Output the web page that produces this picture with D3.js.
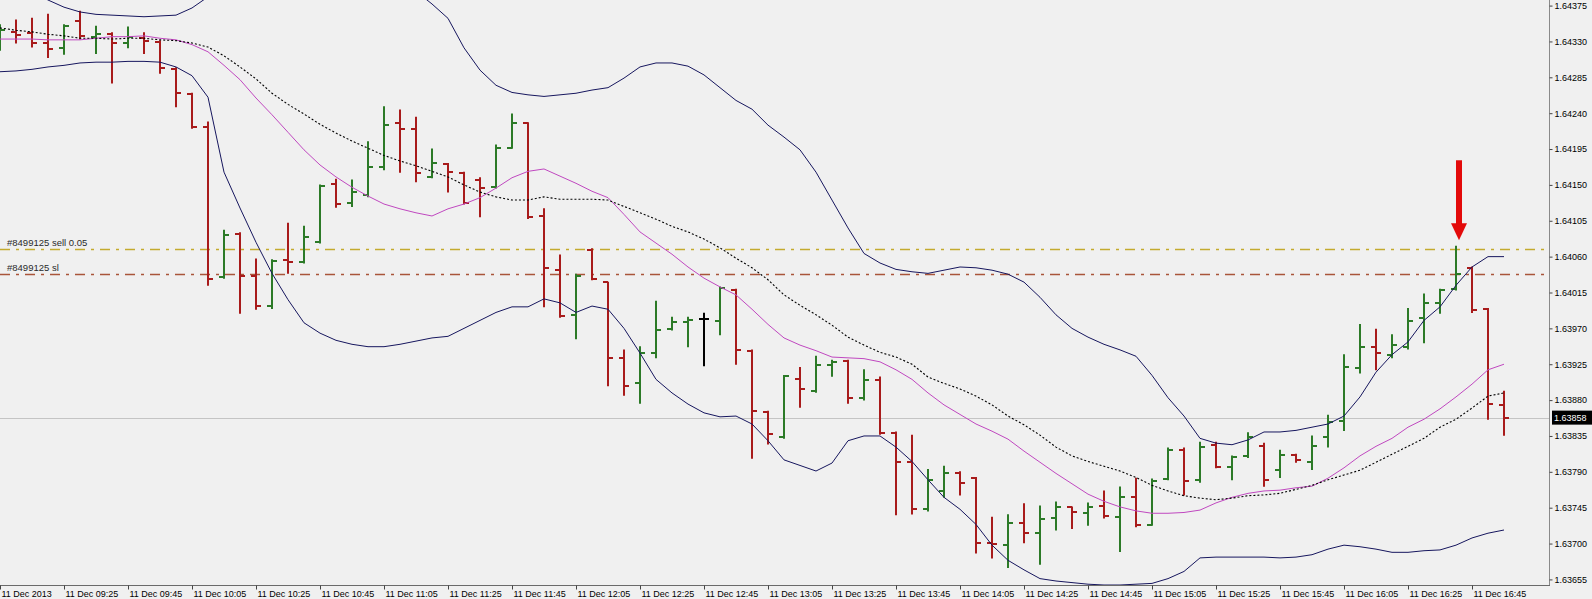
<!DOCTYPE html>
<html><head><meta charset="utf-8">
<script src="https://cdn.jsdelivr.net/npm/d3@7"></script>
<style>
html,body{margin:0;padding:0;background:#f0f0f0;overflow:hidden;}
svg{display:block;}
</style></head><body>
<svg id="c" width="1592" height="599"></svg>
<script>
// ---------- DATA ----------
const barTimes = ["09:05","09:10","09:15","09:20","09:25","09:30","09:35","09:40","09:45","09:50","09:55",
"10:00","10:05","10:10","10:15","10:20","10:25","10:30","10:35","10:40","10:45","10:50","10:55",
"11:00","11:05","11:10","11:15","11:20","11:25","11:30","11:35","11:40","11:45","11:50","11:55",
"12:00","12:05","12:10","12:15","12:20","12:25","12:30","12:35","12:40","12:45","12:50","12:55",
"13:00","13:05","13:10","13:15","13:20","13:25","13:30","13:35","13:40","13:45","13:50","13:55",
"14:00","14:05","14:10","14:15","14:20","14:25","14:30","14:35","14:40","14:45","14:50","14:55",
"15:00","15:05","15:10","15:15","15:20","15:25","15:30","15:35","15:40","15:45","15:50","15:55",
"16:00","16:05","16:10","16:15","16:20","16:25","16:30","16:35","16:40","16:45","16:50","16:55"];

const open = [1.64332,1.64342,1.64341,1.64328,1.64322,1.64356,1.64336,1.64339,1.64328,1.64334,
1.64329,1.64295,1.64264,1.64223,1.64034,1.64088,1.64036,1.63998,1.64056,1.64053,
1.64078,1.64151,1.64127,1.64137,1.64172,1.64228,1.64220,1.64160,1.64176,1.64165,
1.64156,1.64147,1.64196,1.64228,1.64111,1.64043,1.63987,1.64068,1.64028,1.63933,
1.63901,1.63939,1.63969,1.63978,1.63982,1.63979,1.64018,1.63942,1.63865,1.63834,
1.63906,1.63891,1.63924,1.63929,1.63883,1.63905,1.63839,1.63802,1.63743,1.63766,
1.63788,1.63782,1.63701,1.63698,1.63726,1.63713,1.63732,1.63746,1.63738,1.63747,
1.63733,1.63758,1.63723,1.63781,1.63817,1.63780,1.63824,1.63796,1.63810,1.63822,
1.63792,1.63811,1.63802,1.63834,1.63854,1.63920,1.63947,1.63936,1.63947,1.63983,
1.64002,1.64019,1.64046,1.63994,1.63874];

const high = [1.64351,1.64357,1.64359,1.64364,1.64351,1.64368,1.64349,1.64341,1.64348,1.64341,
1.64331,1.64297,1.64265,1.64229,1.64093,1.64090,1.64057,1.64056,1.64102,1.64098,
1.64150,1.64157,1.64156,1.64204,1.64248,1.64244,1.64235,1.64195,1.64177,1.64166,
1.64159,1.64200,1.64239,1.64228,1.64120,1.64062,1.64038,1.64070,1.64028,1.63943,
1.63947,1.64004,1.63984,1.63984,1.63989,1.64022,1.64019,1.63943,1.63866,1.63911,
1.63921,1.63935,1.63930,1.63930,1.63918,1.63909,1.63840,1.63836,1.63793,1.63797,
1.63790,1.63783,1.63733,1.63736,1.63750,1.63747,1.63752,1.63746,1.63751,1.63766,
1.63771,1.63782,1.63781,1.63820,1.63820,1.63827,1.63827,1.63810,1.63839,1.63826,
1.63817,1.63812,1.63835,1.63861,1.63937,1.63975,1.63969,1.63962,1.63995,1.64013,
1.64019,1.64073,1.64047,1.63995,1.63891];

const low = [1.64319,1.64328,1.64323,1.64310,1.64314,1.64333,1.64315,1.64278,1.64322,1.64315,
1.64290,1.64248,1.64221,1.64024,1.64033,1.63989,1.63994,1.63995,1.64039,1.64052,
1.64077,1.64122,1.64123,1.64135,1.64169,1.64166,1.64154,1.64159,1.64141,1.64126,
1.64110,1.64146,1.64196,1.64108,1.63997,1.63984,1.63957,1.64031,1.63898,1.63886,
1.63876,1.63933,1.63968,1.63947,1.63923,1.63962,1.63925,1.63807,1.63825,1.63832,
1.63871,1.63890,1.63910,1.63876,1.63880,1.63837,1.63736,1.63737,1.63741,1.63758,
1.63761,1.63688,1.63682,1.63670,1.63701,1.63674,1.63717,1.63719,1.63723,1.63732,
1.63690,1.63721,1.63723,1.63780,1.63761,1.63777,1.63795,1.63780,1.63808,1.63772,
1.63783,1.63802,1.63793,1.63821,1.63842,1.63914,1.63918,1.63933,1.63944,1.63952,
1.63989,1.64018,1.63990,1.63856,1.63836];

const close = [1.64344,1.64338,1.64328,1.64321,1.64349,1.64337,1.64339,1.64328,1.64336,1.64331,
1.64297,1.64265,1.64223,1.64032,1.64087,1.64036,1.63998,1.64054,1.64053,1.64085,
1.64149,1.64126,1.64141,1.64172,1.64225,1.64220,1.64165,1.64177,1.64166,1.64127,
1.64146,1.64196,1.64228,1.64110,1.64046,1.63985,1.64036,1.64032,1.63933,1.63898,
1.63939,1.63968,1.63978,1.63980,1.63982,1.64021,1.63943,1.63866,1.63837,1.63910,
1.63894,1.63924,1.63928,1.63883,1.63905,1.63839,1.63802,1.63743,1.63780,1.63788,
1.63776,1.63701,1.63699,1.63726,1.63713,1.63731,1.63746,1.63739,1.63746,1.63734,
1.63758,1.63723,1.63778,1.63818,1.63778,1.63821,1.63796,1.63808,1.63834,1.63780,
1.63811,1.63805,1.63822,1.63852,1.63921,1.63947,1.63939,1.63949,1.63979,1.64002,
1.64018,1.64038,1.63993,1.63875,1.63858];

const bbUpper = [1.64413,1.64403,1.64393,1.64382,1.64373,1.64367,1.64364,1.64363,1.64362,1.64361,
1.64362,1.64363,1.64372,1.64386,1.64457,1.64475,1.64487,1.64491,1.64497,1.64501,
1.64489,1.64475,1.64460,1.64446,1.64428,1.64410,1.64393,1.64377,1.64359,1.64322,
1.64294,1.64275,1.64266,1.64263,1.64261,1.64263,1.64265,1.64269,1.64272,1.64284,
1.64298,1.64303,1.64303,1.64299,1.64288,1.64272,1.64256,1.64245,1.64225,1.64210,
1.64194,1.64166,1.64131,1.64096,1.64064,1.64052,1.64044,1.64041,1.64039,1.64043,
1.64047,1.64046,1.64043,1.64038,1.64028,1.64009,1.63987,1.63970,1.63959,1.63950,
1.63943,1.63935,1.63911,1.63883,1.63860,1.63832,1.63826,1.63824,1.63830,1.63840,
1.63840,1.63842,1.63846,1.63850,1.63860,1.63884,1.63915,1.63937,1.63953,1.63980,
1.63997,1.64024,1.64047,1.64060,1.64060];

const bbMiddle = [1.64347,1.64344,1.64342,1.64339,1.64337,1.64334,1.64334,1.64333,1.64334,1.64334,
1.64332,1.64331,1.64328,1.64323,1.64312,1.64298,1.64283,1.64265,1.64251,1.64239,
1.64226,1.64215,1.64205,1.64196,1.64187,1.64180,1.64174,1.64167,1.64160,1.64150,
1.64141,1.64135,1.64131,1.64131,1.64135,1.64132,1.64132,1.64132,1.64131,1.64123,
1.64115,1.64107,1.64098,1.64091,1.64082,1.64071,1.64058,1.64046,1.64031,1.64012,
1.63999,1.63987,1.63974,1.63959,1.63949,1.63940,1.63934,1.63925,1.63909,1.63901,
1.63894,1.63885,1.63874,1.63860,1.63849,1.63836,1.63821,1.63810,1.63803,1.63797,
1.63791,1.63783,1.63773,1.63766,1.63760,1.63757,1.63755,1.63757,1.63760,1.63761,
1.63763,1.63768,1.63773,1.63780,1.63786,1.63792,1.63802,1.63812,1.63822,1.63832,
1.63846,1.63856,1.63870,1.63885,1.63889];

const bbLower = [1.64292,1.64293,1.64295,1.64298,1.64300,1.64303,1.64304,1.64304,1.64305,1.64305,
1.64304,1.64298,1.64287,1.64260,1.64166,1.64121,1.64078,1.64039,1.64006,1.63977,
1.63964,1.63955,1.63950,1.63947,1.63947,1.63950,1.63954,1.63958,1.63960,1.63970,
1.63980,1.63990,1.63997,1.63997,1.64007,1.64002,1.63990,1.63998,1.63994,1.63970,
1.63939,1.63906,1.63889,1.63875,1.63864,1.63859,1.63860,1.63850,1.63829,1.63805,
1.63798,1.63791,1.63801,1.63829,1.63835,1.63835,1.63821,1.63803,1.63780,1.63758,
1.63743,1.63724,1.63698,1.63679,1.63667,1.63656,1.63653,1.63651,1.63649,1.63648,
1.63648,1.63649,1.63650,1.63656,1.63665,1.63682,1.63683,1.63683,1.63683,1.63683,
1.63682,1.63683,1.63686,1.63693,1.63698,1.63696,1.63693,1.63689,1.63689,1.63691,
1.63692,1.63698,1.63707,1.63713,1.63717];

const maLine = [1.64333,1.64333,1.64333,1.64332,1.64332,1.64332,1.64334,1.64336,1.64336,1.64337,
1.64334,1.64332,1.64326,1.64317,1.64300,1.64282,1.64259,1.64238,1.64216,1.64194,
1.64175,1.64160,1.64147,1.64136,1.64126,1.64120,1.64115,1.64111,1.64120,1.64126,
1.64134,1.64146,1.64159,1.64167,1.64170,1.64161,1.64152,1.64142,1.64134,1.64113,
1.64091,1.64077,1.64063,1.64047,1.64033,1.64022,1.64012,1.63994,1.63975,1.63958,
1.63949,1.63942,1.63934,1.63933,1.63932,1.63928,1.63918,1.63906,1.63889,1.63874,
1.63862,1.63850,1.63841,1.63831,1.63816,1.63802,1.63788,1.63775,1.63762,1.63753,
1.63746,1.63741,1.63738,1.63738,1.63739,1.63742,1.63751,1.63758,1.63763,1.63766,
1.63767,1.63770,1.63772,1.63782,1.63795,1.63810,1.63822,1.63832,1.63846,1.63856,
1.63869,1.63884,1.63900,1.63918,1.63925];

const priceTicks = [1.63655,1.63700,1.63745,1.63790,1.63835,1.63880,1.63925,1.63970,1.64015,
1.64060,1.64105,1.64150,1.64195,1.64240,1.64285,1.64330,1.64375];

const timeTicks = ["09:05","09:25","09:45","10:05","10:25","10:45","11:05","11:25","11:45","12:05",
"12:25","12:45","13:05","13:25","13:45","14:05","14:25","14:45","15:05","15:25","15:45","16:05","16:25","16:45"];
const timeTickLabels = ["11 Dec 2013","11 Dec 09:25","11 Dec 09:45","11 Dec 10:05","11 Dec 10:25","11 Dec 10:45",
"11 Dec 11:05","11 Dec 11:25","11 Dec 11:45","11 Dec 12:05","11 Dec 12:25","11 Dec 12:45","11 Dec 13:05",
"11 Dec 13:25","11 Dec 13:45","11 Dec 14:05","11 Dec 14:25","11 Dec 14:45","11 Dec 15:05","11 Dec 15:25",
"11 Dec 15:45","11 Dec 16:05","11 Dec 16:25","11 Dec 16:45"];

const tradeLevels = [1.64070, 1.64038];
const tradeLabels = ["#8499125 sell 0.05", "#8499125 sl"];
const currentPrice = 1.63858;
const arrowTimes = ["16:40"];

// ---------- LAYOUT ----------
const W = 1592, H = 599;
const plotRight = 1549, plotBottom = 585;
const font = "Liberation Sans, Arial, sans-serif";
const svg = d3.select("#c");
svg.append("rect").attr("width", W).attr("height", H).attr("fill", "#f0f0f0");

const x = d3.scalePoint().domain(barTimes).range([0, 1504]).padding(0);
const y = d3.scaleLinear().domain([1.63648, 1.64382]).range([plotBottom, 0]);

svg.append("defs").append("clipPath").attr("id", "plot")
  .append("rect").attr("x", 0).attr("y", 0).attr("width", plotRight).attr("height", plotBottom);
const g = svg.append("g").attr("clip-path", "url(#plot)");

// current price line
g.append("line").attr("x1", 0).attr("x2", plotRight)
  .attr("y1", Math.round(y(currentPrice)) + 0.5).attr("y2", Math.round(y(currentPrice)) + 0.5)
  .attr("stroke", "#c4c4c4").attr("stroke-width", 1);

// trade lines
const tradeColors = ["#c4aa2e", "#a9553a"];
g.selectAll("line.trade").data(tradeLevels).join("line").attr("class", "trade")
  .attr("x1", 0).attr("x2", plotRight)
  .attr("y1", d => Math.round(y(d)) + 0.5).attr("y2", d => Math.round(y(d)) + 0.5)
  .attr("stroke", (d, i) => tradeColors[i]).attr("stroke-width", 1.3)
  .attr("stroke-dasharray", "10,6,3,6");
g.selectAll("text.trade").data(tradeLevels).join("text").attr("class", "trade")
  .attr("x", 7).attr("y", d => y(d) - 3)
  .attr("font-family", font).attr("font-size", "9.5px")
  .attr("fill", "#2a2a2a").text((d, i) => tradeLabels[i]);

// bars
const bars = barTimes.map((t, i) => ({t, o: open[i], h: high[i], l: low[i], c: close[i]}));
const col = d => d.c > d.o ? "#2c7a27" : (d.c < d.o ? "#a81b1b" : "#000000");
const bg = g.append("g");
const bar = bg.selectAll("g.bar").data(bars).join("g").attr("class", "bar");
bar.append("line").attr("x1", d => x(d.t)).attr("x2", d => x(d.t))
  .attr("y1", d => y(d.h) - 0.5).attr("y2", d => y(d.l) + 0.5)
  .attr("stroke", col).attr("stroke-width", 2);
bar.append("line").attr("x1", d => x(d.t) - 5).attr("x2", d => x(d.t))
  .attr("y1", d => Math.round(y(d.o))).attr("y2", d => Math.round(y(d.o)))
  .attr("stroke", col).attr("stroke-width", 2);
bar.append("line").attr("x1", d => x(d.t)).attr("x2", d => x(d.t) + 5)
  .attr("y1", d => Math.round(y(d.c))).attr("y2", d => Math.round(y(d.c)))
  .attr("stroke", col).attr("stroke-width", 2);

// indicators
const lineGen = d3.line().x((d, i) => x(barTimes[i])).y(d => y(d)).curve(d3.curveLinear);
g.append("path").datum(maLine).attr("d", lineGen).attr("fill", "none")
  .attr("stroke", "#c048c0").attr("stroke-width", 1);
g.append("path").datum(bbMiddle).attr("d", lineGen).attr("fill", "none")
  .attr("stroke", "#000").attr("stroke-width", 1.1).attr("stroke-dasharray", "2,2");
[bbUpper, bbLower].forEach(arr => {
  g.append("path").datum(arr).attr("d", lineGen).attr("fill", "none")
    .attr("stroke", "#16165e").attr("stroke-width", 1);
});

// arrow annotation
arrowTimes.forEach(t => {
  const i = barTimes.indexOf(t);
  const ax = x(t) + 3, tip = y(high[i]) - 6;
  g.append("rect").attr("x", ax - 3).attr("y", tip - 80).attr("width", 6).attr("height", 64)
    .attr("fill", "#e30a0a");
  g.append("path").attr("d", `M${ax - 8},${tip - 17} L${ax + 8},${tip - 17} L${ax},${tip} Z`)
    .attr("fill", "#e30a0a");
});

// axes
const yAxis = d3.axisRight(y).tickValues(priceTicks).tickFormat(d3.format(".5f")).tickSize(3).tickPadding(2);
const ya = svg.append("g").attr("transform", `translate(${plotRight + 0.5},0)`).call(yAxis);
ya.select(".domain").attr("stroke", "#8a8a8a").attr("d", `M0,0V${plotBottom}`);
ya.selectAll(".tick line").attr("stroke", "#444");
ya.selectAll(".tick text").attr("font-family", font).attr("font-size", "9px").attr("fill", "#000");

const xAxis = d3.axisBottom(x).tickValues(timeTicks)
  .tickFormat((d, i) => timeTickLabels[i]).tickSize(4).tickPadding(1);
const xa = svg.append("g").attr("transform", `translate(0,${plotBottom + 0.5})`).call(xAxis);
xa.select(".domain").attr("stroke", "#6a6a6a").attr("d", `M0,0H${plotRight + 1}`);
xa.selectAll(".tick line").attr("stroke", "#444");
xa.selectAll(".tick text").attr("font-family", font).attr("font-size", "9px").attr("fill", "#000")
  .attr("text-anchor", "start").attr("x", 1);

// current price tag
const cy = y(currentPrice);
svg.append("rect").attr("x", plotRight + 3).attr("y", cy - 7).attr("width", W - plotRight - 3).attr("height", 14)
  .attr("fill", "#000");
svg.append("text").attr("x", plotRight + 5).attr("y", cy + 3.5).attr("font-family", font)
  .attr("font-size", "9px").attr("fill", "#fff").text(d3.format(".5f")(currentPrice));
</script>
</body></html>
